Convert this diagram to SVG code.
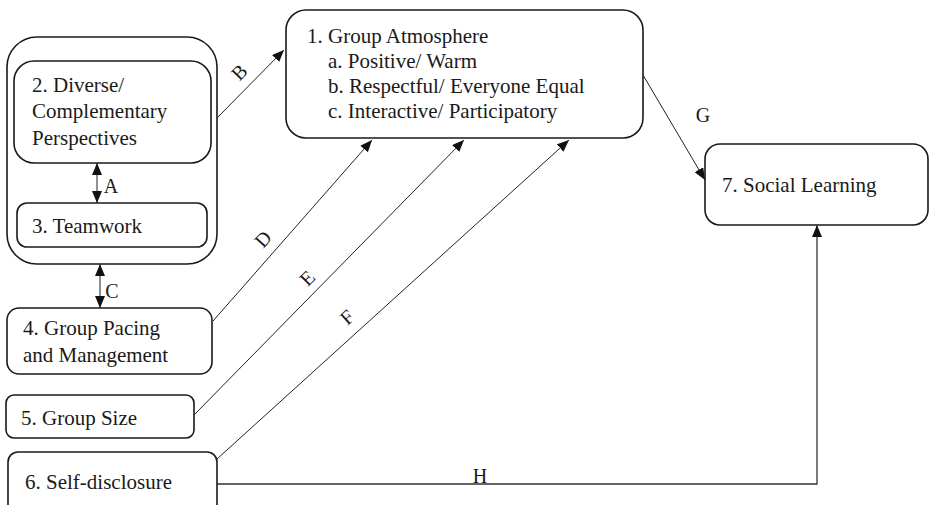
<svg xmlns="http://www.w3.org/2000/svg" width="929" height="505" viewBox="0 0 929 505">
<style>
.box{fill:#fff;stroke:#1a1a1a;stroke-width:1.6}
.t{font-family:"Liberation Serif","Times New Roman",serif;font-size:21px;fill:#1a1a1a}
.lbl{font-family:"Liberation Serif","Times New Roman",serif;font-size:20px;fill:#1a1a1a;text-anchor:middle}
.ln{fill:none;stroke:#222;stroke-width:1}
</style>
<defs>
<marker id="ah" viewBox="0 0 12 10" refX="12" refY="5" markerWidth="12" markerHeight="10" markerUnits="userSpaceOnUse" orient="auto-start-reverse">
<path d="M0,0 L12,5 L0,10 z" fill="#111"/>
</marker>
</defs>
<rect width="929" height="505" fill="#fff"/>
<g id="group-outer">
<rect class="box" x="7" y="37" width="210" height="227" rx="30"/>
</g>
<g id="node2">
<rect class="box" x="14" y="61" width="197" height="102" rx="20"/>
<text class="t" x="32" y="92">2. Diverse/</text>
<text class="t" x="32" y="118">Complementary</text>
<text class="t" x="32" y="145">Perspectives</text>
</g>
<g id="node3">
<rect class="box" x="17" y="203" width="190" height="44" rx="10"/>
<text class="t" x="32" y="233">3. Teamwork</text>
</g>
<g id="node1">
<rect class="box" x="286" y="10" width="357" height="128" rx="20"/>
<text class="t" x="307" y="43">1. Group Atmosphere</text>
<text class="t" x="328" y="68">a. Positive/ Warm</text>
<text class="t" x="328" y="93">b. Respectful/ Everyone Equal</text>
<text class="t" x="328" y="118">c. Interactive/ Participatory</text>
</g>
<g id="node4">
<rect class="box" x="7" y="308" width="205" height="66" rx="12"/>
<text class="t" x="23" y="335">4. Group Pacing</text>
<text class="t" x="23" y="362">and Management</text>
</g>
<g id="node5">
<rect class="box" x="6" y="395" width="188" height="43" rx="8"/>
<text class="t" x="21" y="425">5. Group Size</text>
</g>
<g id="node6">
<rect class="box" x="8" y="452" width="209" height="70" rx="10"/>
<text class="t" x="25" y="489">6. Self-disclosure</text>
</g>
<g id="node7">
<rect class="box" x="705" y="144" width="223" height="81" rx="15"/>
<text class="t" x="722" y="192">7. Social Learning</text>
</g>
<g id="connectors">
<line class="ln" x1="97" y1="163" x2="97" y2="203" marker-start="url(#ah)" marker-end="url(#ah)"/>
<text class="lbl" x="111" y="193">A</text>
<line class="ln" x1="100" y1="264" x2="100" y2="308" marker-start="url(#ah)" marker-end="url(#ah)"/>
<text class="lbl" x="112" y="298">C</text>
<line class="ln" x1="217" y1="118" x2="284" y2="50" marker-end="url(#ah)"/>
<text class="lbl" transform="translate(239,72) rotate(-46)" y="7">B</text>
<line class="ln" x1="213" y1="321" x2="372" y2="140" marker-end="url(#ah)"/>
<text class="lbl" transform="translate(263,239) rotate(-48)" y="7">D</text>
<line class="ln" x1="194" y1="415" x2="464" y2="140" marker-end="url(#ah)"/>
<text class="lbl" transform="translate(307,278) rotate(-45)" y="7">E</text>
<line class="ln" x1="217" y1="459" x2="569" y2="140" marker-end="url(#ah)"/>
<text class="lbl" transform="translate(347,317) rotate(-42)" y="7">F</text>
<line class="ln" x1="643" y1="75" x2="705" y2="180" marker-end="url(#ah)"/>
<text class="lbl" x="703" y="122">G</text>
<polyline class="ln" points="217,484 817,484 817,225" style="stroke:#333;stroke-width:1.3" marker-end="url(#ah)"/>
<text class="lbl" x="480" y="483">H</text>
</g>
</svg>
